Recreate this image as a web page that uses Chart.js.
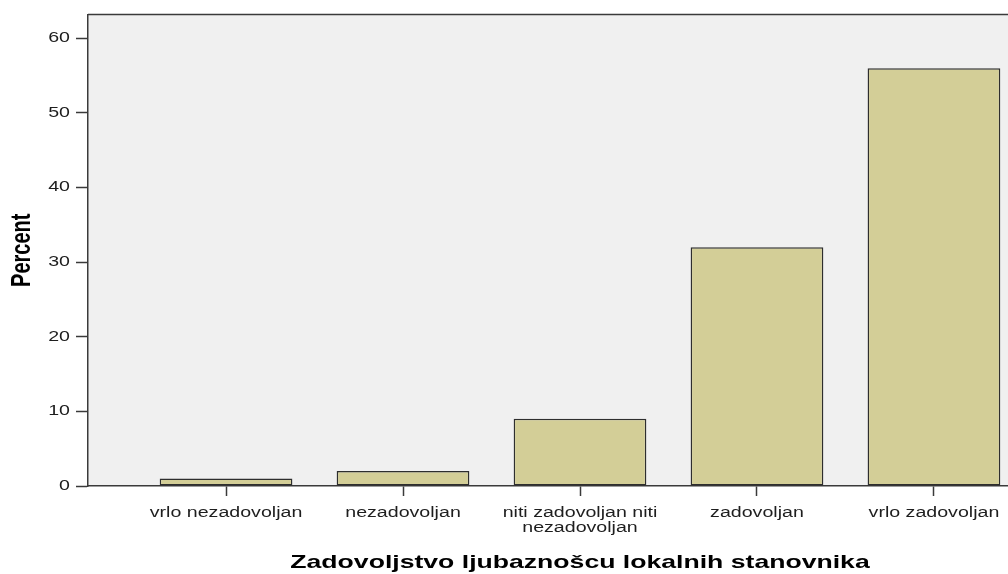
<!DOCTYPE html>
<html>
<head>
<meta charset="utf-8">
<script src="https://cdn.jsdelivr.net/npm/chart.js@4"></script>
<style>
  html, body { margin: 0; padding: 0; background: #fff; overflow: hidden; }
  #wrap { width: 1080px; height: 574px; }
</style>
</head>
<body>
<div id="wrap"><canvas id="chart" width="1080" height="574"></canvas></div>
<script>
const categories = [
    'vrlo nezadovoljan',
    'nezadovoljan',
    ['niti zadovoljan niti', 'nezadovoljan'],
    'zadovoljan',
    'vrlo zadovoljan'
];
const percents = [1, 2, 9, 32, 56];
const yTicks = [0, 10, 20, 30, 40, 50, 60];
const yTitle = 'Percent';
const xTitle = 'Zadovoljstvo ljubaznošcu lokalnih stanovnika';

const canvas = document.getElementById('chart');
const ctx = canvas.getContext('2d');

// the original picture was stretched sideways, so every text is drawn
// wider on screen x around its own anchor point (rotated text too)
const textStretch = 1.4;
const plainFill = ctx.fillText;
ctx.fillText = function (text, x, y, maxWidth) {
    const m = this.getTransform();
    const p = m.transformPoint(new DOMPoint(x, y));
    const wide = new DOMMatrix().translate(p.x, p.y).scale(textStretch, 1).translate(-p.x, -p.y).multiply(m);
    this.setTransform(wide);
    if (maxWidth === undefined) {
        plainFill.call(this, text, x, y);
    } else {
        plainFill.call(this, text, x, y, maxWidth);
    }
    this.setTransform(m);
};

// plot background and frame lines
const plotFrame = {
    id: 'plotFrame',
    beforeDraw(chart) {
        const { ctx, chartArea } = chart;
        ctx.save();
        ctx.fillStyle = '#f0f0f0';
        ctx.fillRect(chartArea.left, chartArea.top, chartArea.right - chartArea.left, chartArea.bottom - chartArea.top);
        ctx.strokeStyle = '#3a3a3a';
        ctx.lineWidth = 1.5;
        ctx.beginPath();
        ctx.moveTo(chartArea.left, chartArea.top);
        ctx.lineTo(chartArea.right, chartArea.top);
        ctx.lineTo(chartArea.right, chartArea.bottom);
        ctx.stroke();
        ctx.restore();
    }
};

new Chart(ctx, {
    type: 'bar',
    data: {
        datasets: [{
            label: yTitle,
            data: percents.map((v, i) => ({ x: i, y: v })),
            backgroundColor: '#d3ce97',
            borderColor: '#2e2e2e',
            borderWidth: 1.5,
            borderSkipped: false,
            categoryPercentage: 1,
            barPercentage: 0.75
        }]
    },
    options: {
        responsive: false,
        animation: false,
        devicePixelRatio: 1,
        layout: {
            padding: { top: 13, left: 0, right: 8, bottom: 0 }
        },
        plugins: {
            legend: { display: false },
            tooltip: { enabled: false }
        },
        scales: {
            x: {
                type: 'linear',
                offset: false,
                min: -0.78,
                max: categories.length - 0.22,
                afterBuildTicks: (scale) => {
                    scale.ticks = categories.map((c, i) => ({ value: i }));
                },
                afterFit: (scale) => { scale.height = 88; },
                grid: {
                    offset: false,
                    drawOnChartArea: false,
                    drawTicks: true,
                    tickLength: 10,
                    tickWidth: 1.5,
                    tickColor: '#3a3a3a'
                },
                border: { color: '#3a3a3a', width: 1.5 },
                ticks: {
                    autoSkip: false,
                    maxRotation: 0,
                    padding: 10,
                    color: '#1e1e1e',
                    font: { family: "'Liberation Sans', Arial, sans-serif", size: 14, lineHeight: 1.05 },
                    callback: (value) => categories[value]
                },
                title: {
                    display: true,
                    text: xTitle,
                    color: '#000',
                    font: { family: "'Liberation Sans', Arial, sans-serif", size: 19, weight: 'bold', lineHeight: 1.2 },
                    padding: { top: 0, bottom: 0 }
                }
            },
            y: {
                min: 0,
                max: 63.2,
                afterBuildTicks: (scale) => {
                    scale.ticks = yTicks.map(v => ({ value: v }));
                },
                afterFit: (scale) => { scale.width = 88; },
                grid: {
                    drawOnChartArea: false,
                    drawTicks: true,
                    tickLength: 12,
                    tickWidth: 1.5,
                    tickColor: '#3a3a3a'
                },
                border: { color: '#3a3a3a', width: 1.5 },
                ticks: {
                    padding: 6,
                    color: '#1e1e1e',
                    font: { family: "'Liberation Sans', Arial, sans-serif", size: 14 }
                },
                title: {
                    display: true,
                    text: yTitle,
                    color: '#000',
                    font: { family: "'Liberation Sans', Arial, sans-serif", size: 20, weight: 'bold', lineHeight: 1 },
                    padding: { top: 12, bottom: 0 }
                }
            }
        }
    },
    plugins: [plotFrame]
});
</script>
</body>
</html>
